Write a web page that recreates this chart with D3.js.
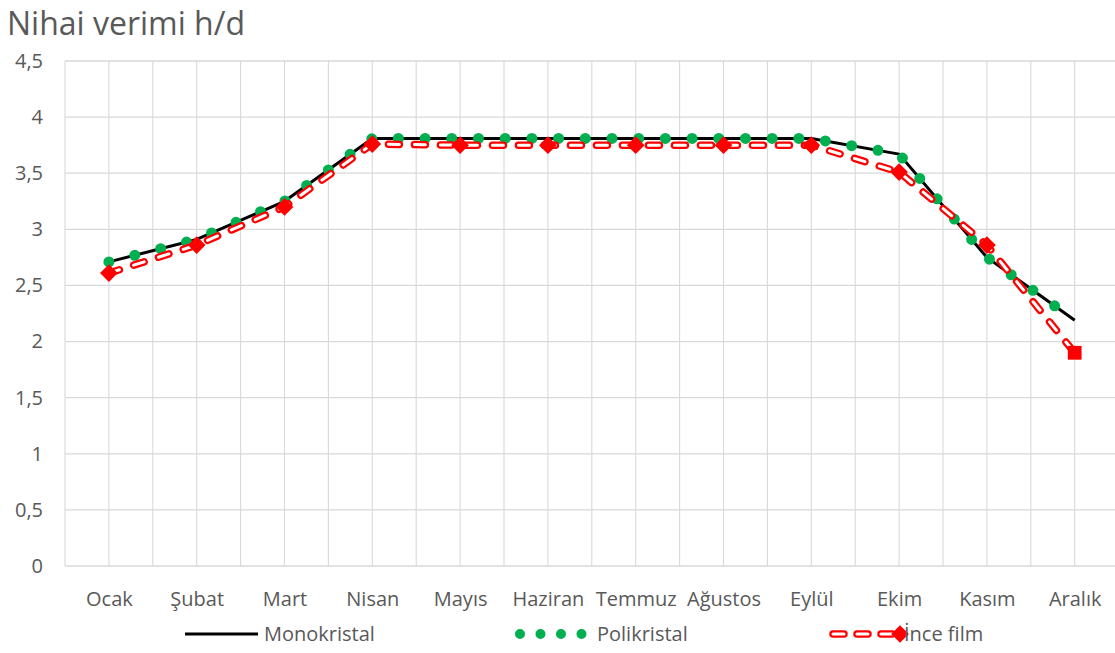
<!DOCTYPE html>
<html>
<head>
<meta charset="utf-8">
<script src="https://cdn.jsdelivr.net/npm/d3@7"></script>
<style>
  html, body { margin: 0; padding: 0; background: #fff; }
  svg { display: block; font-family: "Open Sans", "Noto Sans", sans-serif; }
</style>
</head>
<body>
<svg id="chart" width="1115" height="653"></svg>
<script>
// Monthly final yield (h/d) for three PV module technologies
const months = ["Ocak", "Şubat", "Mart", "Nisan", "Mayıs", "Haziran",
                "Temmuz", "Ağustos", "Eylül", "Ekim", "Kasım", "Aralık"];
const monokristal = [2.71, 2.91, 3.25, 3.81, 3.81, 3.81, 3.81, 3.81, 3.81, 3.67, 2.75, 2.19];
const polikristal = [2.71, 2.91, 3.25, 3.81, 3.81, 3.81, 3.81, 3.81, 3.81, 3.67, 2.75, 2.19];
const inceFilm    = [2.61, 2.86, 3.20, 3.76, 3.75, 3.75, 3.75, 3.75, 3.75, 3.51, 2.86, 1.90];
const yTicks = [0, 0.5, 1, 1.5, 2, 2.5, 3, 3.5, 4, 4.5];
const seriesNames = ["Monokristal", "Polikristal", "İnce film"];

const W = 1115, H = 653;
const plot = { left: 65, right: 1118.6, top: 61, bottom: 566 };
const textColor = "#595959";
const gridColor = "#D9D9D9";
const green = "#00B050";
const red = "#FF0000";
const labelSize = 20;

const svg = d3.select("#chart");

const x = d3.scalePoint().domain(months).range([plot.left, plot.right]).padding(0.5);
const step = x.step();
const y = d3.scaleLinear().domain([0, 4.5]).range([plot.bottom, plot.top]);
const fmt = v => String(v).replace(".", ",");

// Title
svg.append("text")
  .attr("x", 7).attr("y", 35)
  .attr("fill", textColor)
  .attr("font-size", 32)
  .text("Nihai verimi h/d");

// Grid: horizontal lines at every y tick
const grid = svg.append("g");
grid.selectAll("line.h").data(yTicks).join("line")
  .attr("x1", plot.left).attr("x2", W)
  .attr("y1", d => y(d)).attr("y2", d => y(d))
  .attr("stroke", gridColor).attr("stroke-width", 1.3);

// Vertical lines at category centres and category boundaries
const vLines = [];
months.forEach(m => { vLines.push(x(m) - step / 2); vLines.push(x(m)); });
vLines.push(x(months[months.length - 1]) + step / 2);
grid.selectAll("line.v").data(vLines).join("line")
  .attr("x1", d => d).attr("x2", d => d)
  .attr("y1", plot.top).attr("y2", plot.bottom)
  .attr("stroke", gridColor).attr("stroke-width", 1.1);

// Y axis labels
const yAxis = d3.axisLeft(y).tickValues(yTicks).tickFormat(fmt).tickSize(0).tickPadding(22);
svg.append("g").attr("transform", `translate(${plot.left},0)`).call(yAxis)
  .call(g => g.select(".domain").remove())
  .call(g => g.selectAll("text").attr("fill", textColor).attr("font-size", labelSize)
    .attr("font-family", "'Open Sans', sans-serif"));

// X axis labels
const xAxis = d3.axisBottom(x).tickSize(0).tickPadding(26);
svg.append("g").attr("transform", `translate(0,${plot.bottom})`).call(xAxis)
  .call(g => g.select(".domain").remove())
  .call(g => g.selectAll("text").attr("fill", textColor).attr("font-size", labelSize)
    .attr("font-family", "'Open Sans', sans-serif"));

const line = d3.line().x((d, i) => x(months[i])).y(d => y(d));

// Monokristal: solid black
svg.append("path").datum(monokristal)
  .attr("d", line).attr("fill", "none")
  .attr("stroke", "#000").attr("stroke-width", 3).attr("stroke-linejoin", "round");

// Polikristal: thick round-dot green line
svg.append("path").datum(polikristal)
  .attr("d", line).attr("fill", "none")
  .attr("stroke", green).attr("stroke-width", 11)
  .attr("stroke-linecap", "round").attr("stroke-dasharray", "0 26.7");

// İnce film: outlined red dashes
const dash = "11 15";
svg.append("path").datum(inceFilm)
  .attr("d", line).attr("fill", "none")
  .attr("stroke", red).attr("stroke-width", 7.5)
  .attr("stroke-linecap", "round").attr("stroke-dasharray", dash);
svg.append("path").datum(inceFilm)
  .attr("d", line).attr("fill", "none")
  .attr("stroke", "#fff").attr("stroke-width", 3)
  .attr("stroke-linecap", "round").attr("stroke-dasharray", dash);

// İnce film markers
const diamond = d3.symbol().type(d3.symbolDiamond2).size(200);
const square = d3.symbol().type(d3.symbolSquare).size(190);
svg.append("g").selectAll("path").data(inceFilm).join("path")
  .attr("transform", (d, i) => `translate(${x(months[i])},${y(d)})`)
  .attr("d", (d, i) => (i === inceFilm.length - 1 ? square() : diamond()))
  .attr("fill", red);

// Legend
const ly = 634;
const legend = svg.append("g").attr("font-size", labelSize).attr("fill", textColor);

legend.append("line").attr("x1", 185).attr("x2", 258).attr("y1", ly).attr("y2", ly)
  .attr("stroke", "#000").attr("stroke-width", 3);
legend.append("text").attr("x", 264).attr("y", ly).attr("dy", "0.35em").text(seriesNames[0]);

legend.append("line").attr("x1", 520).attr("x2", 582).attr("y1", ly).attr("y2", ly)
  .attr("stroke", green).attr("stroke-width", 10)
  .attr("stroke-linecap", "round").attr("stroke-dasharray", "0 20.5");
legend.append("text").attr("x", 597).attr("y", ly).attr("dy", "0.35em").text(seriesNames[1]);

legend.append("line").attr("x1", 833).attr("x2", 900).attr("y1", ly).attr("y2", ly)
  .attr("stroke", red).attr("stroke-width", 7.5)
  .attr("stroke-linecap", "round").attr("stroke-dasharray", "11 13");
legend.append("line").attr("x1", 833).attr("x2", 900).attr("y1", ly).attr("y2", ly)
  .attr("stroke", "#fff").attr("stroke-width", 3)
  .attr("stroke-linecap", "round").attr("stroke-dasharray", "11 13");
legend.append("path").attr("transform", `translate(900,${ly})`).attr("d", diamond()).attr("fill", red);
legend.append("text").attr("x", 904).attr("y", ly).attr("dy", "0.35em").text(seriesNames[2]);
</script>
</body>
</html>
